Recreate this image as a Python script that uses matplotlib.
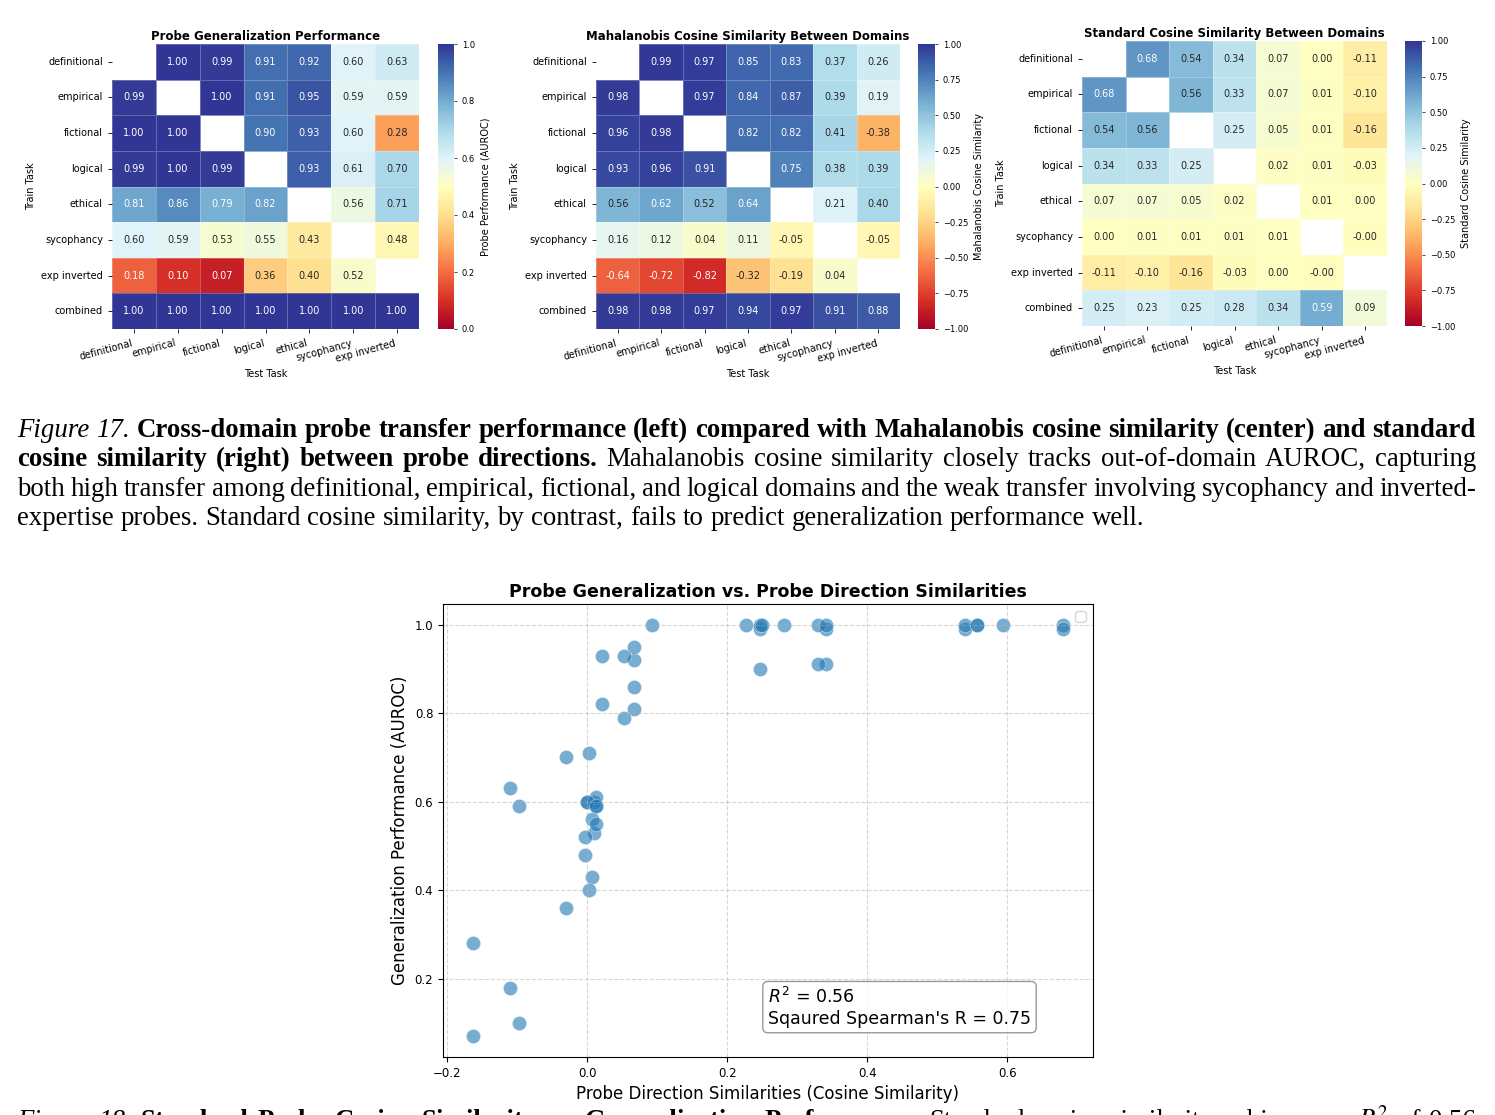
import numpy as np
import matplotlib
matplotlib.use('Agg')
import matplotlib.pyplot as plt
import seaborn as sns

tasks = ['definitional', 'empirical', 'fictional', 'logical', 'ethical', 'sycophancy', 'exp inverted']
train_tasks = tasks + ['combined']
nan = np.nan

# out-of-domain AUROC (rows = train task, cols = test task)
auroc = np.array([
    [nan, 1.00, 0.99, 0.91, 0.92, 0.60, 0.63],
    [0.99, nan, 1.00, 0.91, 0.95, 0.59, 0.59],
    [1.00, 1.00, nan, 0.90, 0.93, 0.60, 0.28],
    [0.99, 1.00, 0.99, nan, 0.93, 0.61, 0.70],
    [0.81, 0.86, 0.79, 0.82, nan, 0.56, 0.71],
    [0.60, 0.59, 0.53, 0.55, 0.43, nan, 0.48],
    [0.18, 0.10, 0.07, 0.36, 0.40, 0.52, nan],
    [1.00, 1.00, 1.00, 1.00, 1.00, 1.00, 1.00],
])

mahal_cos = np.array([
    [nan, 0.99, 0.97, 0.85, 0.83, 0.37, 0.26],
    [0.98, nan, 0.97, 0.84, 0.87, 0.39, 0.19],
    [0.96, 0.98, nan, 0.82, 0.82, 0.41, -0.38],
    [0.93, 0.96, 0.91, nan, 0.75, 0.38, 0.39],
    [0.56, 0.62, 0.52, 0.64, nan, 0.21, 0.40],
    [0.16, 0.12, 0.04, 0.11, -0.05, nan, -0.05],
    [-0.64, -0.72, -0.82, -0.32, -0.19, 0.04, nan],
    [0.98, 0.98, 0.97, 0.94, 0.97, 0.91, 0.88],
])

# standard cosine, third decimal
std_cos = np.array([
    [nan, 0.680, 0.539, 0.341, 0.067, 0.000, -0.110],
    [0.680, nan, 0.557, 0.329, 0.066, 0.013, -0.097],
    [0.539, 0.557, nan, 0.246, 0.053, 0.010, -0.164],
    [0.341, 0.329, 0.246, nan, 0.021, 0.013, -0.031],
    [0.067, 0.066, 0.053, 0.021, nan, 0.007, 0.003],
    [0.000, 0.013, 0.010, 0.013, 0.007, nan, -0.004],
    [-0.110, -0.097, -0.164, -0.031, 0.003, -0.004, nan],
    [0.246, 0.226, 0.250, 0.281, 0.341, 0.594, 0.093],
])

r2_text = '$R^2$ = 0.56\nSqaured Spearman\'s R = 0.75'

caption17 = [
    [('Figure 17.', 'it'),
     ('Cross-domain probe transfer performance (left) compared with Mahalanobis cosine similarity (center) and standard', 'b')],
    [('cosine similarity (right) between probe directions.', 'b'),
     ('Mahalanobis cosine similarity closely tracks out-of-domain AUROC, capturing', 'n')],
    [('both high transfer among definitional, empirical, fictional, and logical domains and the weak transfer involving sycophancy and inverted-', 'n')],
    [('expertise probes. Standard cosine similarity, by contrast, fails to predict generalization performance well.', 'n')],
]
caption18 = [
    [('Figure 18.', 'it'),
     ('Standard Probe Cosine Similarity vs. Generalization Performance.', 'b'),
     ('Standard cosine similarity achieves an $R^2$ of 0.56', 'n')],
]

W, H = 1495, 1115
fig = plt.figure(figsize=(W / 100, H / 100), dpi=100)


def box(x0, y0, x1, y1):
    return [x0 / W, 1 - y1 / H, (x1 - x0) / W, (y1 - y0) / H]


def draw_heatmap(ax, cax, data, title, vmin, vmax, cbar_label):
    sns.heatmap(data, mask=np.isnan(data), ax=ax, cbar_ax=cax, cmap='RdYlBu',
                vmin=vmin, vmax=vmax, annot=True, fmt='.2f', annot_kws={'size': 7},
                linewidths=0.4, linecolor='#ffffff40',
                xticklabels=tasks, yticklabels=train_tasks)
    ax.set_title(title, fontsize=8.5, fontweight='bold', pad=3)
    ax.set_xlabel('Test Task', fontsize=7)
    ax.set_ylabel('Train Task', fontsize=7)
    ax.set_xticklabels(tasks, rotation=15, ha='right', fontsize=7)
    ax.set_yticklabels(train_tasks, rotation=0, fontsize=7)
    ax.tick_params(length=3, width=0.6)
    cax.tick_params(labelsize=6, length=2, width=0.5)
    cax.set_ylabel(cbar_label, fontsize=7)


ax1 = fig.add_axes(box(112, 44, 419, 329))
cax1 = fig.add_axes(box(438, 44, 454, 329))
draw_heatmap(ax1, cax1, auroc, 'Probe Generalization Performance', 0, 1, 'Probe Performance (AUROC)')

ax2 = fig.add_axes(box(596, 44, 900, 329))
cax2 = fig.add_axes(box(918, 44, 935, 329))
draw_heatmap(ax2, cax2, mahal_cos, 'Mahalanobis Cosine Similarity Between Domains', -1, 1,
             'Mahalanobis Cosine Similarity')

ax3 = fig.add_axes(box(1082, 41, 1387, 326))
cax3 = fig.add_axes(box(1405, 41, 1422, 326))
draw_heatmap(ax3, cax3, std_cos, 'Standard Cosine Similarity Between Domains', -1, 1,
             'Standard Cosine Similarity')

# scatter: standard cosine vs AUROC for every off-diagonal pair
keep = ~np.isnan(auroc)
xs = std_cos[keep]
ys = auroc[keep]

ax4 = fig.add_axes(box(443, 604, 1093, 1057))
ax4.scatter(xs, ys, s=105, alpha=0.6, color='#1f77b4', edgecolors='white', linewidths=0.4)
ax4.set_title('Probe Generalization vs. Probe Direction Similarities', fontsize=12.5,
              fontweight='bold', pad=5)
ax4.set_xlabel('Probe Direction Similarities (Cosine Similarity)', fontsize=12)
ax4.set_ylabel('Generalization Performance (AUROC)', fontsize=12)
ax4.tick_params(labelsize=8.5)
ax4.grid(True, linestyle='--', alpha=0.5)
ax4.legend(handles=[], loc='upper right')
ax4.text(0.5, 0.065, r2_text, transform=ax4.transAxes, fontsize=12.5, va='bottom',
         bbox=dict(boxstyle='round', facecolor='white', edgecolor='gray', alpha=0.8))

# captions, justified like the page
renderer = fig.canvas.get_renderer()
styles = {'it': dict(fontstyle='italic'), 'b': dict(fontweight='bold'), 'n': {}}
cap_kw = dict(family='Liberation Serif', fontsize=19.4, va='baseline', ha='left')


def caption_line(segments, y, x0=17, x1=1476, justify=True):
    words = []
    for text, st in segments:
        for w in text.split():
            t = fig.text(0, 1 - y / H, w, math_fontfamily='stix', **cap_kw, **styles[st])
            words.append((t, t.get_window_extent(renderer).width))
    probe = fig.text(0, 0, 'x x', **cap_kw)
    probe2 = fig.text(0, 0, 'xx', **cap_kw)
    space = probe.get_window_extent(renderer).width - probe2.get_window_extent(renderer).width
    probe.remove()
    probe2.remove()
    total = sum(wd for _, wd in words)
    gap = (x1 - x0 - total) / (len(words) - 1) if justify else space
    x = x0
    for t, wd in words:
        t.set_x(x / W)
        x += wd + gap


cap_y = [437, 466, 496, 525]
for i, line in enumerate(caption17):
    caption_line(line, cap_y[i], justify=(i < 3))
# next caption runs off the bottom of the page crop
caption_line(caption18[0], 1128)

fig.savefig('out.png', dpi=100)
